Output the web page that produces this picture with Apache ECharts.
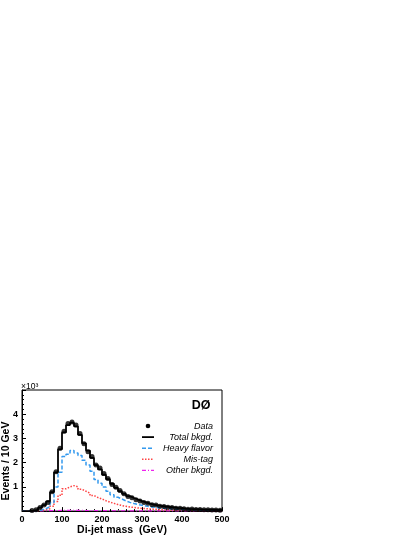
<!DOCTYPE html>
<html>
<head>
<meta charset="utf-8">
<script src="https://cdn.jsdelivr.net/npm/echarts@6/dist/echarts.min.js"></script>
<style>
  html, body { margin: 0; padding: 0; background: #fff; }
  #chart { width: 415px; height: 537px; }
</style>
</head>
<body>
<div id="chart"></div>
<script>
// bins of 10 GeV from 0 to 500, values in units of 10^3 events
const binWidth = 10
const dataVals = [0, 0, 0.02, 0.06, 0.15, 0.25, 0.35, 0.8, 1.62, 2.6,
  3.3, 3.62, 3.68, 3.55, 3.2, 2.78, 2.45, 2.25, 1.9, 1.78,
  1.55, 1.35, 1.1, 0.98, 0.85, 0.72, 0.6, 0.55, 0.47, 0.42,
  0.35, 0.32, 0.26, 0.25, 0.2, 0.19, 0.16, 0.15, 0.12, 0.12,
  0.1, 0.08, 0.09, 0.07, 0.07, 0.06, 0.06, 0.05, 0.05, 0.04]
const totalBkg = [0, 0.005, 0.02, 0.05, 0.14, 0.25, 0.4, 0.78, 1.6, 2.55,
  3.25, 3.55, 3.65, 3.5, 3.15, 2.8, 2.5, 2.2, 1.9, 1.72,
  1.5, 1.32, 1.13, 0.96, 0.82, 0.71, 0.62, 0.54, 0.48, 0.41,
  0.36, 0.31, 0.27, 0.24, 0.21, 0.19, 0.17, 0.15, 0.13, 0.12,
  0.1, 0.09, 0.085, 0.08, 0.07, 0.065, 0.06, 0.055, 0.05, 0.045]
const heavyFlavor = [0, 0, 0.005, 0.02, 0.05, 0.1, 0.18, 0.35, 1.0, 1.6,
  2.25, 2.35, 2.5, 2.4, 2.3, 2.1, 1.9, 1.65, 1.3, 1.15,
  1.0, 0.82, 0.68, 0.57, 0.5, 0.42, 0.36, 0.31, 0.27, 0.24,
  0.21, 0.18, 0.16, 0.14, 0.12, 0.11, 0.1, 0.085, 0.075, 0.065,
  0.06, 0.055, 0.05, 0.045, 0.04, 0.04, 0.035, 0.035, 0.03, 0.03]
const misTag = [0, 0, 0.005, 0.01, 0.03, 0.06, 0.1, 0.2, 0.4, 0.65,
  0.92, 1.0, 1.05, 1.0, 0.9, 0.82, 0.74, 0.64, 0.56, 0.5,
  0.43, 0.37, 0.32, 0.27, 0.23, 0.2, 0.17, 0.15, 0.13, 0.11,
  0.1, 0.09, 0.08, 0.07, 0.06, 0.055, 0.05, 0.045, 0.04, 0.035,
  0.03, 0.03, 0.025, 0.025, 0.02, 0.02, 0.02, 0.015, 0.015, 0.015]
const otherBkg = [0, 0, 0, 0.005, 0.01, 0.015, 0.02, 0.02, 0.025, 0.03,
  0.03, 0.03, 0.03, 0.03, 0.03, 0.025, 0.025, 0.025, 0.02, 0.02,
  0.02, 0.02, 0.015, 0.015, 0.015, 0.015, 0.01, 0.01, 0.01, 0.01,
  0.01, 0.01, 0.01, 0.01, 0.01, 0.01, 0.01, 0.005, 0.005, 0.005,
  0.005, 0.005, 0.005, 0.005, 0.005, 0.005, 0.005, 0.005, 0.005, 0.005]
const legendLabels = ['Data', 'Total bkgd.', 'Heavy flavor', 'Mis-tag', 'Other bkgd.']

const font = 'Liberation Sans'

// histogram outline: one point per lower bin edge, plus the last edge
function steps (vals) {
  let pts = []
  for (let i = 0; i < vals.length; i++) {
    pts.push([i * binWidth, vals[i]])
  }
  pts.push([vals.length * binWidth, vals[vals.length - 1]])
  return pts
}
let dataPts = []
for (let i = 0; i < dataVals.length; i++) {
  if (dataVals[i] > 0) dataPts.push([(i + 0.5) * binWidth, dataVals[i]])
}

const lineStyles = [
  null,
  { color: '#000', width: 1.8, type: 'solid' },
  { color: '#3399ee', width: 1.5, type: [4, 2] },
  { color: '#ff4444', width: 1.5, type: [1.5, 1.5] },
  { color: '#ee22ee', width: 1.2, type: [4, 2, 1, 2] }
]

// legend drawn by hand: sample on the left, text right-aligned
let graphic = []
for (let i = 0; i < legendLabels.length; i++) {
  let y = 426 + i * 11.1
  if (i === 0) {
    graphic.push({ type: 'circle', shape: { cx: 148, cy: y, r: 2.3 }, style: { fill: '#000' } })
  } else {
    graphic.push({
      type: 'line', shape: { x1: 142, y1: y, x2: 154, y2: y },
      style: { stroke: lineStyles[i].color, lineWidth: lineStyles[i].width, lineDash: lineStyles[i].type === 'solid' ? null : lineStyles[i].type }
    })
  }
  graphic.push({
    type: 'text', x: 213, y: y,
    style: { text: legendLabels[i], font: 'italic 9px "Liberation Sans"', fill: '#000', align: 'right', verticalAlign: 'middle' }
  })
}
graphic.push({
  type: 'text', x: 201, y: 406,
  style: { text: 'DØ', font: 'bold 12.5px "Liberation Sans"', fill: '#000', align: 'center', verticalAlign: 'middle' }
})
graphic.push({
  type: 'text', x: 6.5, y: 461, rotation: Math.PI / 2,
  style: { text: 'Events / 10 GeV', font: 'bold 10.5px "Liberation Sans"', fill: '#000', align: 'center', verticalAlign: 'middle' }
})

let chart = echarts.init(document.getElementById('chart'))
chart.setOption({
  animation: false,
  backgroundColor: '#fff',
  grid: {
    left: 22, right: 193, top: 390, bottom: 24,
    show: true, borderColor: '#000', borderWidth: 1
  },
  xAxis: {
    type: 'value', min: 0, max: 500, interval: 100,
    name: 'Di-jet mass  (GeV)', nameLocation: 'middle', nameGap: 11,
    nameTextStyle: { fontFamily: font, fontWeight: 'bold', fontSize: 10.5, color: '#000' },
    axisLine: { lineStyle: { color: '#000', width: 1 } },
    axisTick: { inside: true, length: 4, lineStyle: { color: '#000' } },
    minorTick: { show: true, splitNumber: 5, length: 2, lineStyle: { color: '#000' } },
    axisLabel: { fontFamily: font, fontWeight: 'bold', fontSize: 9, color: '#000', margin: 4 },
    splitLine: { show: false }
  },
  yAxis: {
    type: 'value', min: 0, max: 5, interval: 1,
    name: '×10³', nameLocation: 'end', nameGap: 0,
    nameTextStyle: { fontFamily: font, fontSize: 8.5, color: '#000', align: 'left', verticalAlign: 'bottom', padding: [0, 0, -1, -1] },
    axisLine: { lineStyle: { color: '#000', width: 1 } },
    axisTick: { inside: true, length: 4, lineStyle: { color: '#000' } },
    minorTick: { show: true, splitNumber: 5, length: 2, lineStyle: { color: '#000' } },
    axisLabel: {
      fontFamily: font, fontWeight: 'bold', fontSize: 9, color: '#000', margin: 4,
      formatter: v => (v > 0 && v < 5) ? String(v) : ''
    },
    splitLine: { show: false }
  },
  graphic: graphic,
  series: [
    { name: 'Other bkgd.', type: 'line', step: 'end', symbol: 'none', data: steps(otherBkg), lineStyle: lineStyles[4], z: 2 },
    { name: 'Mis-tag', type: 'line', step: 'end', symbol: 'none', data: steps(misTag), lineStyle: lineStyles[3], z: 3 },
    { name: 'Heavy flavor', type: 'line', step: 'end', symbol: 'none', data: steps(heavyFlavor), lineStyle: lineStyles[2], z: 4 },
    { name: 'Total bkgd.', type: 'line', step: 'end', symbol: 'none', data: steps(totalBkg), lineStyle: lineStyles[1], z: 5 },
    { name: 'Data', type: 'scatter', symbol: 'circle', symbolSize: 5, data: dataPts, itemStyle: { color: '#000' }, z: 6 }
  ]
})
</script>
</body>
</html>
